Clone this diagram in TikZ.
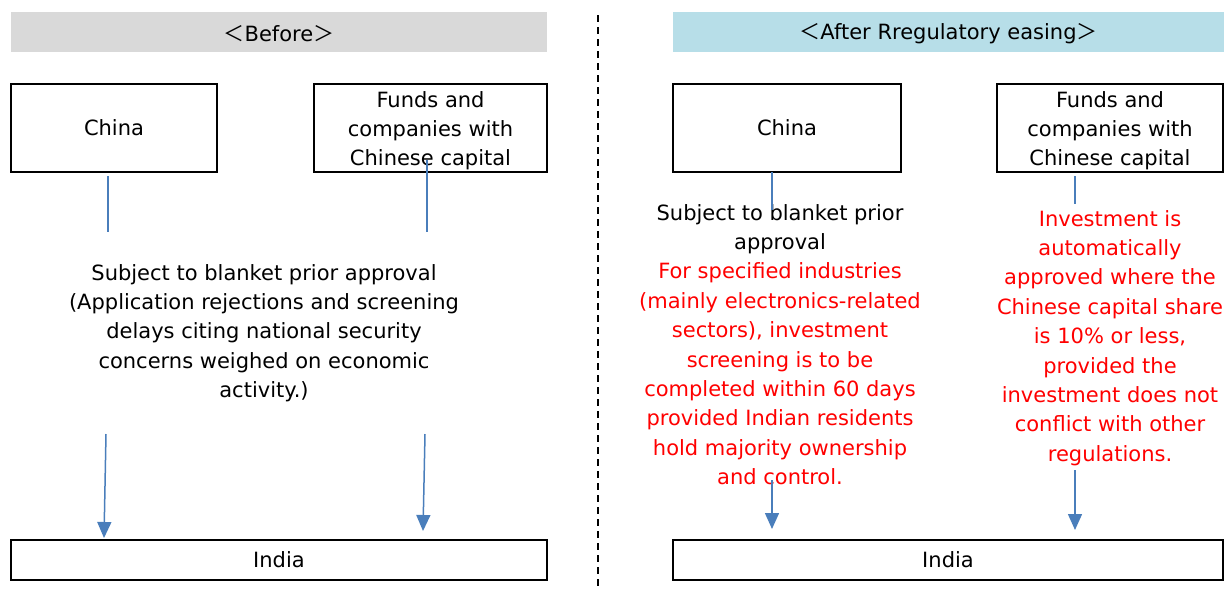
\documentclass[tikz,border=0pt]{standalone}
\usepackage{fontspec}
\setmainfont{DejaVu Sans}
\newfontfamily\cjk{Noto Sans CJK JP}
\usetikzlibrary{arrows.meta}
\definecolor{hdrgray}{RGB}{217,217,217}
\definecolor{hdrblue}{RGB}{183,222,232}
\definecolor{linkblue}{RGB}{74,126,187}
\newcommand{\txt}{\fontsize{21}{29.4}\selectfont}

\begin{document}
\begin{tikzpicture}[x=1pt,y=-1pt]
    \tikzstyle{every node}=[font=\txt]
    \tikzstyle{box}=[draw=black,line width=1.5pt,inner sep=0pt,align=center]
    \tikzstyle{header}=[inner sep=0pt,minimum height=40pt]
    \tikzstyle{note}=[inner sep=0pt,align=center,anchor=north]
    \tikzstyle{link}=[draw=linkblue,line width=1.5pt]
    \tikzstyle{arrow}=[link,-{Triangle[length=16pt,width=14pt]}]

\useasboundingbox (0,0) rectangle (1224,590);

% left half: before
\node[header,fill=hdrgray,minimum width=536pt] (before) at (279,32) {};
\node (beforetxt) at (279,34) {{\cjk ＜}Before{\cjk ＞}};
\node[box,minimum width=206pt,minimum height=88pt] (chinaL) at (114,128) {China};
\node[box,minimum width=233pt,minimum height=88pt] (fundsL) at (430.5,128) {};
\node[note] (fundsLtxt) at (430.5,91) {Funds and\\companies with\\Chinese capital};
\node[box,minimum width=536pt,minimum height=40pt] (indiaL) at (279,560) {India};
\node[note] (ruleL) at (264,264) {Subject to blanket prior approval\\(Application rejections and screening\\delays citing national security\\concerns weighed on economic\\activity.)};

% right half: after
\node[header,fill=hdrblue,minimum width=551pt] (after) at (948.5,32) {};
\node (aftertxt) at (948.5,34) {{\cjk ＜}After Rregulatory easing{\cjk ＞}};
\node[box,minimum width=228pt,minimum height=88pt] (chinaR) at (787,128) {China};
\node[box,minimum width=226pt,minimum height=88pt] (fundsR) at (1110,128) {};
\node[note] (fundsRtxt) at (1110,91) {Funds and\\companies with\\Chinese capital};
\node[box,minimum width=550pt,minimum height=40pt] (indiaR) at (948,560) {India};
\node[note] (ruleR) at (780,204) {Subject to blanket prior\\approval\\
  \textcolor{red}{For specified industries}\\\textcolor{red}{(mainly electronics-related}\\
  \textcolor{red}{sectors), investment}\\\textcolor{red}{screening is to be}\\
  \textcolor{red}{completed within 60 days}\\\textcolor{red}{provided Indian residents}\\
  \textcolor{red}{hold majority ownership}\\\textcolor{red}{and control.}};
\node[note,text=red] (autoR) at (1110,210) {Investment is\\automatically\\approved where the\\Chinese capital share\\is 10\% or less,\\provided the\\investment does not\\conflict with other\\regulations.};

% divider
\coordinate (dtop) at (598,15);
\coordinate (dbot) at (598,586);
\draw[line width=1.5pt,dash pattern=on 7pt off 5pt] (dtop) -- (dbot);

% connectors
\coordinate (cl1) at (108,176);  \coordinate (cl2) at (108,232);
\coordinate (fl1) at (427,160);  \coordinate (fl2) at (427,232);
\coordinate (cl3) at (106,434);  \coordinate (cl4) at (104,538);
\coordinate (fl3) at (425,434);  \coordinate (fl4) at (423,531);
\draw[link] (cl1) -- (cl2);
\draw[link] (fl1) -- (fl2);
\draw[arrow] (cl3) -- (cl4);
\draw[arrow] (fl3) -- (fl4);

\coordinate (cr1) at (772,172);  \coordinate (cr2) at (772,210);
\coordinate (fr1) at (1075,176); \coordinate (fr2) at (1075,204);
\coordinate (cr3) at (772,480);  \coordinate (cr4) at (772,529);
\coordinate (fr3) at (1075,470); \coordinate (fr4) at (1075,530);
\draw[link] (cr1) -- (cr2);
\draw[link] (fr1) -- (fr2);
\draw[arrow] (cr3) -- (cr4);
\draw[arrow] (fr3) -- (fr4);
\end{tikzpicture}
\end{document}
